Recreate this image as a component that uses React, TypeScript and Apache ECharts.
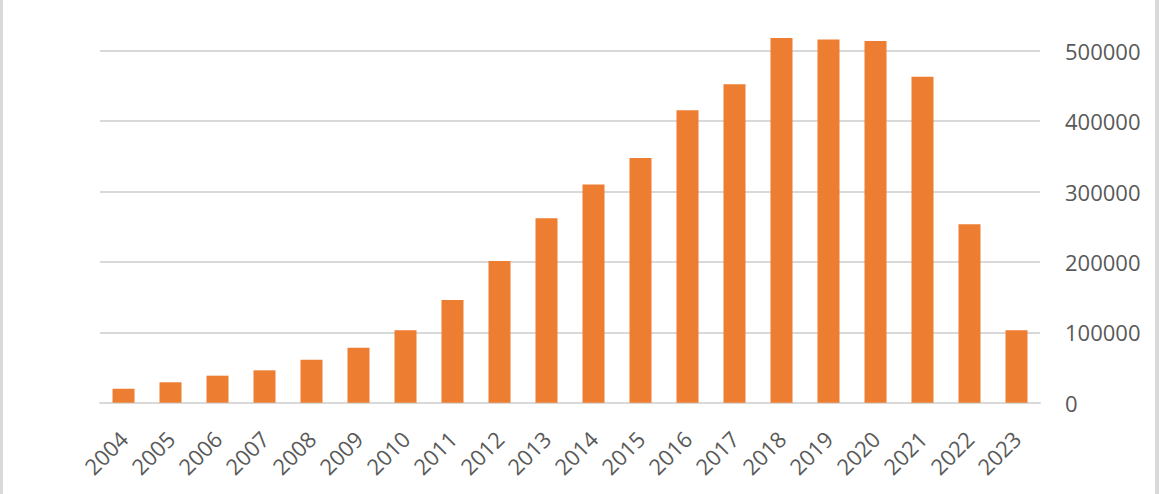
import React, { useEffect, useRef } from "react";
import * as echarts from "echarts";

const years = ["2004","2005","2006","2007","2008","2009","2010","2011","2012","2013","2014","2015","2016","2017","2018","2019","2020","2021","2022","2023"];
const values = [19800, 29000, 38400, 46000, 61000, 78000, 103000, 146000, 201500, 262000, 310000, 347500, 415500, 452500, 518000, 516000, 514000, 463000, 253500, 103000];
const yMax = 600000;
const yStep = 100000;

export default function App() {
  const ref = useRef<HTMLDivElement>(null);
  useEffect(() => {
    const chart = echarts.init(ref.current!, null, { renderer: "svg" });
    chart.setOption({
      animation: false,
      backgroundColor: "#ffffff",
      textStyle: { fontFamily: "Open Sans" },
      graphic: [
        { type: "rect", left: 0, top: 0, shape: { width: 3, height: 494 }, style: { fill: "#d9d9d9" } },
        { type: "rect", left: 1155, top: 0, shape: { width: 4, height: 494 }, style: { fill: "#d9d9d9" } },
      ],
      grid: { left: 100, right: 119, top: -19.6, bottom: 91.3, outerBoundsMode: "none", containLabel: false },
      xAxis: {
        type: "category",
        data: years,
        axisLine: { show: true, lineStyle: { color: "#d9d9d9", width: 2 } },
        axisTick: { show: false },
        axisLabel: { rotate: 45, margin: 32, color: "#595959", fontSize: 22, fontFamily: "Open Sans", interval: 0, hideOverlap: false },
      },
      yAxis: {
        type: "value",
        position: "right",
        min: 0,
        max: yMax,
        interval: yStep,
        axisLine: { show: false },
        axisTick: { show: false },
        axisLabel: {
          margin: 25,
          color: "#595959",
          fontSize: 22,
          fontFamily: "Open Sans",
          showMaxLabel: false,
          formatter: (v: number) => (v >= yMax ? "" : String(v)),
        },
        splitLine: { lineStyle: { color: "#d9d9d9", width: 2 } },
      },
      series: [
        {
          type: "bar",
          data: values,
          barWidth: 22,
          itemStyle: { color: "#ED7D31" },
        },
      ],
    });
    return () => chart.dispose();
  }, []);
  return <div ref={ref} style={{ position: "fixed", left: 0, top: 0, width: 1159, height: 494 }} />;
}
